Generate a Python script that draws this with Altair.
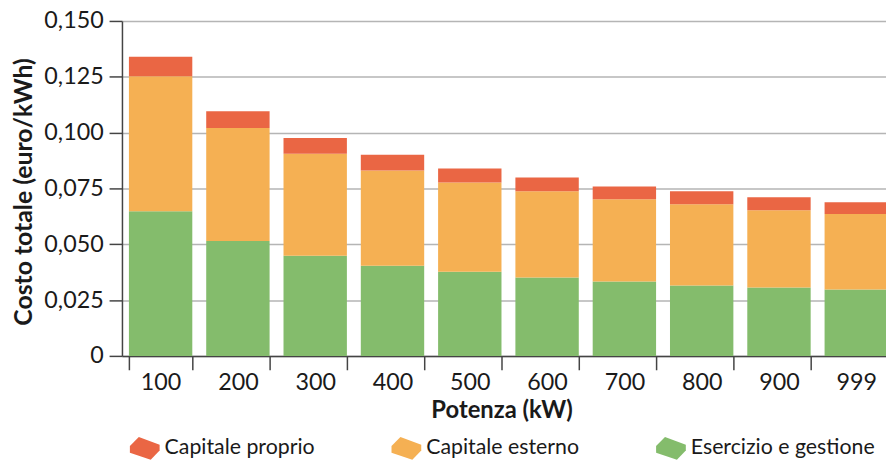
import altair as alt
import pandas as pd

potenza = ["100", "200", "300", "400", "500", "600", "700", "800", "900", "999"]
esercizio = [0.0648, 0.0515, 0.0448, 0.0404, 0.0377, 0.0351, 0.0333, 0.0315, 0.0306, 0.0297]
capitale_esterno = [0.0604, 0.0506, 0.0457, 0.0426, 0.0400, 0.0386, 0.0368, 0.0364, 0.0346, 0.0338]
capitale_proprio = [0.0088, 0.0075, 0.0071, 0.0071, 0.0062, 0.0062, 0.0058, 0.0058, 0.0058, 0.0053]

series = ["Capitale proprio", "Capitale esterno", "Esercizio e gestione"]
colors = ["#EA6644", "#F5B053", "#84BC6C"]
y_ticks = [0, 0.025, 0.05, 0.075, 0.1, 0.125, 0.15]

rows = []
for i, p in enumerate(potenza):
    rows.append({"Potenza": p, "Serie": "Esercizio e gestione", "Valore": esercizio[i], "ordine": 0})
    rows.append({"Potenza": p, "Serie": "Capitale esterno", "Valore": capitale_esterno[i], "ordine": 1})
    rows.append({"Potenza": p, "Serie": "Capitale proprio", "Valore": capitale_proprio[i], "ordine": 2})
df = pd.DataFrame(rows)

brick = "M -1 -0.15 L -0.4 -0.76 L 1 -0.25 L 1 0.15 L 0.4 0.76 L -1 0.3 Z"

chart = alt.Chart(df).mark_bar().encode(
    x=alt.X(
        "Potenza:N",
        sort=potenza,
        scale=alt.Scale(range=[0, 780], paddingInner=0.18, paddingOuter=0.09),
        axis=alt.Axis(
            title="Potenza (kW)",
            labelAngle=0,
            tickBand="extent",
            tickSize=14,
            labelPadding=1,
            labelFontSize=23.5,
            titleFontSize=24,
            titleFontWeight="bold",
            titleX=383,
            titleY=55,
            titleBaseline="middle",
            domainColor="#444",
            domainWidth=1.5,
            tickColor="#444",
            tickWidth=1.5,
            grid=False,
        ),
    ),
    y=alt.Y(
        "Valore:Q",
        stack="zero",
        scale=alt.Scale(domain=[0, 0.15], nice=False),
        axis=alt.Axis(
            title="Costo totale (euro/kWh)",
            values=y_ticks,
            labelExpr="datum.value == 0 ? '0' : replace(format(datum.value, '.3f'), '.', ',')",
            tickSize=13,
            labelPadding=6,
            labelFontSize=23.5,
            titleFontSize=25,
            titleFontWeight="bold",
            titleX=-99,
            titleY=172,
            titleAngle=270,
            titleAlign="center",
            titleBaseline="middle",
            domainColor="#444",
            domainWidth=1.5,
            tickColor="#444",
            tickWidth=1.5,
            gridColor="#b5b5b5",
            gridWidth=1.5,
        ),
    ),
    color=alt.Color(
        "Serie:N",
        scale=alt.Scale(domain=series, range=colors),
        legend=alt.Legend(
            title=None,
            orient="none",
            direction="horizontal",
            legendX=8,
            legendY=416,
            symbolType=brick,
            symbolSize=900,
            symbolStrokeWidth=0,
            symbolOpacity=1,
            labelFontSize=21.5,
            labelLimit=400,
            labelOffset=5,
            columnPadding=77,
            padding=0,
        ),
    ),
    order=alt.Order("ordine:Q", sort="ascending"),
).properties(
    width=771,
    height=338,
    autosize=alt.AutoSizeParams(type="none"),
    padding={"left": 115, "top": 11, "right": 0, "bottom": 104},
).configure(
    font="Lato",
).configure_axis(
    labelColor="#1a1a1a",
    titleColor="#1a1a1a",
).configure_legend(
    labelColor="#1a1a1a",
).configure_view(
    stroke=None,
)

chart.save("out.html", embed_options={"renderer": "svg", "actions": False})
